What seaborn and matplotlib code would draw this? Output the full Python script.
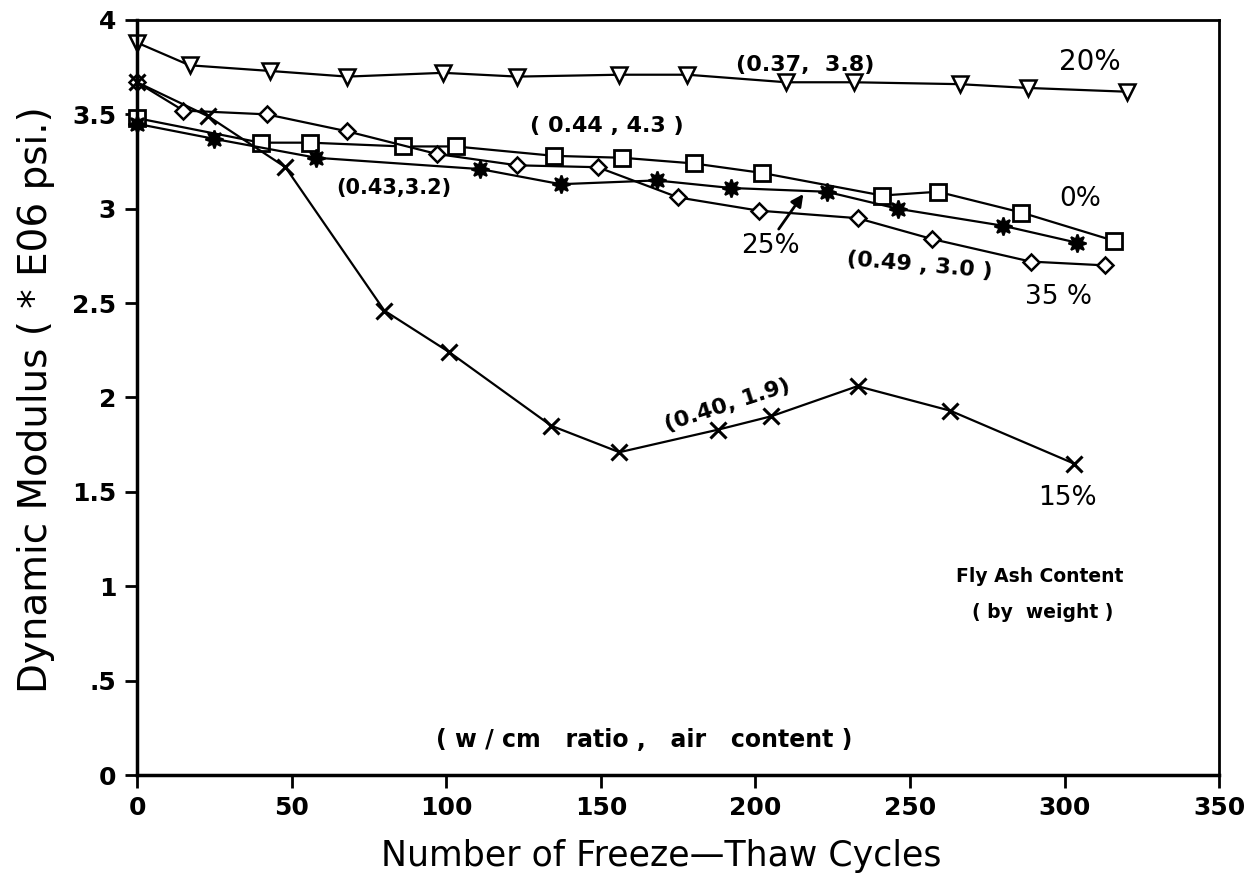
import matplotlib
matplotlib.use("Agg")
import matplotlib.pyplot as plt
import seaborn as sns
import numpy as np

# ---- data ----
cyc_20 = [0, 17, 43, 68, 99, 123, 156, 178, 210, 232, 266, 288, 320]
mod_20 = [3.88, 3.76, 3.73, 3.70, 3.72, 3.70, 3.71, 3.71, 3.67, 3.67, 3.66, 3.64, 3.62]

cyc_0 = [0, 40, 56, 86, 103, 135, 157, 180, 202, 241, 259, 286, 316]
mod_0 = [3.48, 3.35, 3.35, 3.33, 3.33, 3.28, 3.27, 3.24, 3.19, 3.07, 3.09, 2.98, 2.83]

cyc_35 = [0, 15, 42, 68, 97, 123, 149, 175, 201, 233, 257, 289, 313]
mod_35 = [3.67, 3.52, 3.50, 3.41, 3.29, 3.23, 3.22, 3.06, 2.99, 2.95, 2.84, 2.72, 2.70]

cyc_25 = [0, 25, 58, 111, 137, 168, 192, 223, 246, 280, 304]
mod_25 = [3.45, 3.37, 3.27, 3.21, 3.13, 3.15, 3.11, 3.09, 3.00, 2.91, 2.82]

cyc_15 = [0, 23, 48, 80, 101, 134, 156, 188, 205, 233, 263, 303]
mod_15 = [3.67, 3.49, 3.22, 2.46, 2.24, 1.85, 1.71, 1.83, 1.90, 2.06, 1.93, 1.65]

x_ticks = [0, 50, 100, 150, 200, 250, 300, 350]
y_ticks = [0, 0.5, 1, 1.5, 2, 2.5, 3, 3.5, 4]
y_tick_labels = ["0", ".5", "1", "1.5", "2", "2.5", "3", "3.5", "4"]

sns.set_theme(style="white")
plt.rcParams["font.family"] = ["DejaVu Sans"]
plt.rcParams["text.color"] = "black"
plt.rcParams["axes.labelcolor"] = "black"
plt.rcParams["xtick.color"] = "black"
plt.rcParams["ytick.color"] = "black"

fig = plt.figure(figsize=(12.57, 8.84), dpi=100)
ax = fig.add_axes([0.109, 0.1233, 0.861, 0.8541])

line_kw = dict(color="black", linewidth=1.6, ax=ax, sort=False, legend=False, clip_on=False)

sns.lineplot(x=cyc_20, y=mod_20, marker="v", markersize=12,
             markerfacecolor="white", markeredgecolor="black", markeredgewidth=1.8, **line_kw)
sns.lineplot(x=cyc_0, y=mod_0, marker="s", markersize=12,
             markerfacecolor="white", markeredgecolor="black", markeredgewidth=2.0, **line_kw)
sns.lineplot(x=cyc_35, y=mod_35, marker="D", markersize=8,
             markerfacecolor="white", markeredgecolor="black", markeredgewidth=1.8, **line_kw)
sns.lineplot(x=cyc_25, y=mod_25, marker=(8, 1, 0), markersize=13,
             markerfacecolor="black", markeredgecolor="black", markeredgewidth=1.5, **line_kw)
sns.lineplot(x=cyc_15, y=mod_15, marker="x", markersize=12,
             markerfacecolor="black", markeredgecolor="black", markeredgewidth=2.2, **line_kw)

ax.set_xlim(0, 350)
ax.set_ylim(0, 4)
ax.set_xticks(x_ticks)
ax.set_xticklabels([str(t) for t in x_ticks])
ax.set_yticks(y_ticks)
ax.set_yticklabels(y_tick_labels)
ax.tick_params(axis="both", direction="out", length=9, width=2, colors="black",
               labelsize=18, pad=6, left=True, bottom=True)
for lbl in ax.get_xticklabels() + ax.get_yticklabels():
    lbl.set_fontweight("bold")

for side in ["left", "bottom", "top", "right"]:
    ax.spines[side].set_color("black")
    ax.spines[side].set_linewidth(2.0)
ax.spines["bottom"].set_linewidth(2.5)
ax.spines["left"].set_linewidth(2.5)

ax.set_xlabel("Number of Freeze\u2014Thaw Cycles", fontsize=25, labelpad=14, color="black")
ax.xaxis.set_label_coords(0.484, -0.085)
ax.set_ylabel("Dynamic Modulus ( * E06 psi.)", fontsize=28, labelpad=8, color="black")
ax.yaxis.set_label_coords(-0.076, 0.497)

ann = dict(ha="center", va="center", color="black")
ax.text(216, 3.76, "(0.37,  3.8)", fontsize=16, fontweight="bold", **ann)
ax.text(308, 3.78, "20%", fontsize=20, **ann)
ax.text(152, 3.44, "( 0.44 , 4.3 )", fontsize=16, fontweight="bold", **ann)
ax.text(83, 3.11, "(0.43,3.2)", fontsize=15, fontweight="bold", **ann)
ax.text(305, 3.05, "0%", fontsize=19, **ann)
ax.text(205, 2.80, "25%", fontsize=19, **ann)
ax.annotate("", xy=(216, 3.09), xytext=(207, 2.88),
            arrowprops=dict(arrowstyle="-|>", color="black", lw=2, mutation_scale=18))
ax.text(253, 2.70, "(0.49 , 3.0 )", fontsize=16, fontweight="bold", rotation=-5, **ann)
ax.text(298, 2.53, "35 %", fontsize=19, **ann)
ax.text(191, 1.96, "(0.40, 1.9)", fontsize=16, fontweight="bold", rotation=18, **ann)
ax.text(301, 1.47, "15%", fontsize=19, **ann)
ax.text(292, 1.05, "Fly Ash Content", fontsize=13.5, fontweight="bold", **ann)
ax.text(293, 0.86, "( by  weight )", fontsize=13.5, fontweight="bold", **ann)
ax.text(164, 0.185, "( w / cm   ratio ,   air   content )", fontsize=17, fontweight="bold", **ann)

fig.savefig("out.png", dpi=100, facecolor="white")
